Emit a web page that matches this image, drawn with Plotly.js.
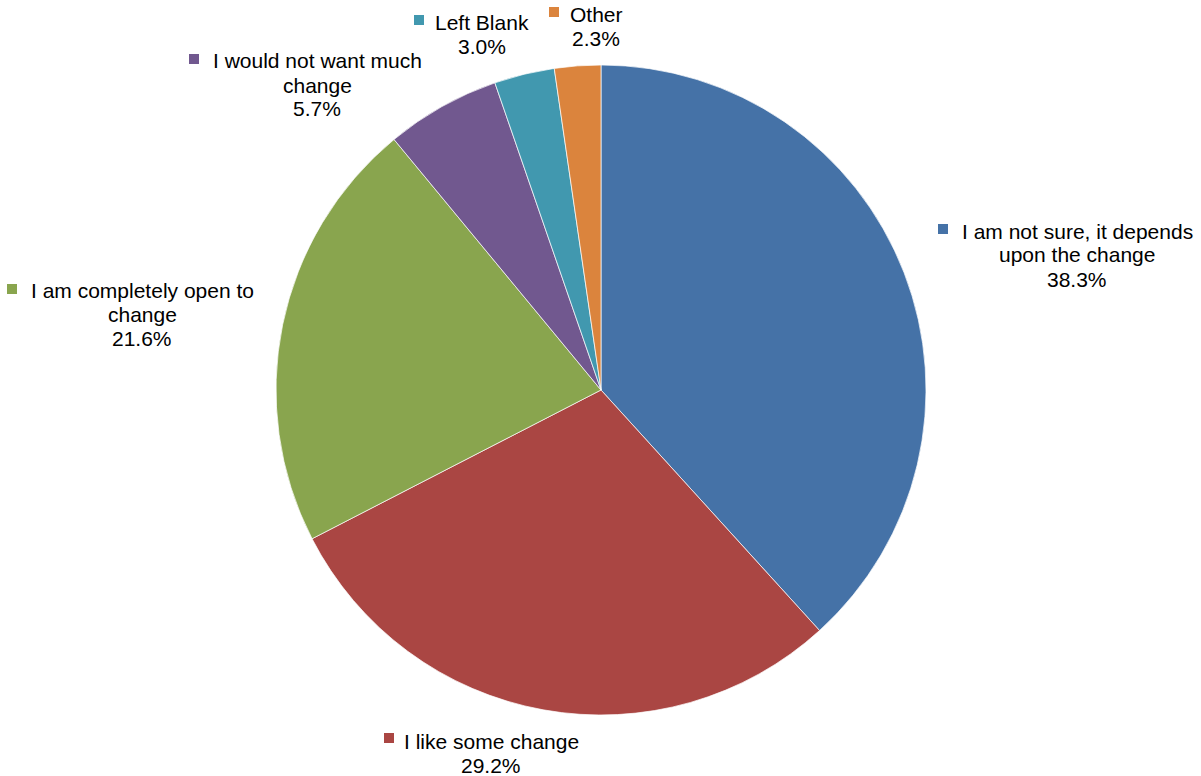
<!DOCTYPE html>
<html>
<head>
<meta charset="utf-8">
<script src="https://cdn.plot.ly/plotly-3.0.1.min.js"></script>
<style>html,body{margin:0;padding:0;background:#fff;}#chart{width:1201px;height:776px;}</style>
</head>
<body>
<div id="chart"></div>
<script>
// Data
var categories = ["I am not sure, it depends upon the change", "I like some change", "I am completely open to change", "I would not want much change", "Left Blank", "Other"];
var values = [38.3, 29.2, 21.6, 5.7, 3.0, 2.3];
var colors = ["#4572A7", "#AA4643", "#89A54E", "#71588F", "#4198AF", "#DB843D"];
// Wrapped label text as shown in the chart
var labelLines = [
  ["I am not sure, it depends", "upon the change"],
  ["I like some change"],
  ["I am completely open to", "change"],
  ["I would not want much", "change"],
  ["Left Blank"],
  ["Other"]
];

// Layout: label placement (pixels) — text centre x, first line y, key square centre
var W = 1201, H = 776;
var labelPos = [
  {tx: 1077, ty: 231, sx: 943, sy: 229},
  {tx: 491, ty: 741, sx: 389, sy: 738},
  {tx: 142, ty: 290, sx: 12, sy: 289},
  {tx: 317, ty: 61, sx: 194, sy: 59},
  {tx: 482, ty: 22, sx: 419, sy: 20},
  {tx: 596, ty: 14, sx: 554, sy: 12}
];
var lineStep = 24;
var fontFam = "Liberation Sans, Arial, sans-serif";

function px(x){ return x / W; }
function py(y){ return 1 - y / H; }

var annotations = [];
var shapes = [];
categories.forEach(function(c, i){
  var p = labelPos[i];
  var lines = labelLines[i].concat([values[i].toFixed(1) + "%"]);
  lines.forEach(function(t, j){
    annotations.push({
      text: t, xref: "paper", yref: "paper",
      x: px(p.tx), y: py(p.ty + j * lineStep),
      xanchor: "center", yanchor: "middle", showarrow: false,
      font: {family: fontFam, size: 21, color: "#000000"}
    });
  });
  shapes.push({
    type: "rect", xref: "paper", yref: "paper",
    x0: px(p.sx - 5), x1: px(p.sx + 5), y0: py(p.sy + 5), y1: py(p.sy - 5),
    fillcolor: colors[i], line: {width: 0}
  });
});

var trace = {
  type: "pie",
  labels: categories,
  values: values,
  sort: false,
  direction: "clockwise",
  rotation: 0,
  textinfo: "none",
  hoverinfo: "label+percent",
  marker: {colors: colors, line: {color: "#ffffff", width: 0.7}},
  domain: {x: [px(276), px(926)], y: [py(715), py(65)]}
};

var layout = {
  width: W, height: H,
  margin: {l: 0, r: 0, t: 0, b: 0},
  showlegend: false,
  paper_bgcolor: "#ffffff",
  annotations: annotations,
  shapes: shapes
};

Plotly.newPlot("chart", [trace], layout, {displayModeBar: false, staticPlot: true});
</script>
</body>
</html>
